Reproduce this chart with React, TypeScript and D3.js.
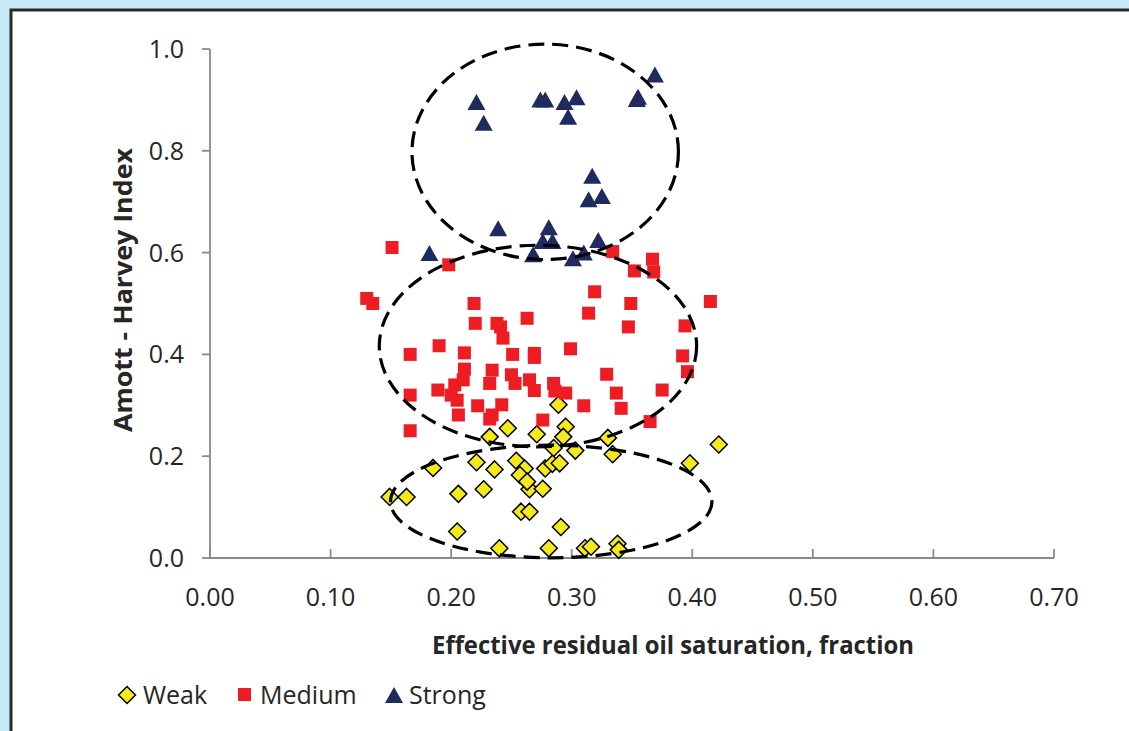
import * as d3 from 'd3';

// Amott-Harvey index vs effective residual oil saturation
const weak: [number, number][] = [
  [0.289, 0.301], [0.247, 0.255], [0.232, 0.238], [0.271, 0.243], [0.295, 0.258],
  [0.293, 0.238], [0.330, 0.236], [0.285, 0.216], [0.303, 0.211], [0.334, 0.204],
  [0.422, 0.223], [0.398, 0.186], [0.185, 0.177], [0.221, 0.188], [0.236, 0.174],
  [0.254, 0.191], [0.261, 0.176], [0.257, 0.163], [0.278, 0.176], [0.284, 0.185],
  [0.290, 0.186], [0.265, 0.135], [0.263, 0.150], [0.276, 0.136], [0.149, 0.120],
  [0.163, 0.120], [0.206, 0.126], [0.227, 0.135], [0.258, 0.091], [0.265, 0.091],
  [0.291, 0.061], [0.205, 0.052], [0.240, 0.019], [0.281, 0.019], [0.311, 0.019],
  [0.316, 0.022], [0.338, 0.028], [0.339, 0.016],
];

const medium: [number, number][] = [
  [0.151, 0.610], [0.198, 0.576], [0.334, 0.602], [0.367, 0.587], [0.368, 0.562],
  [0.352, 0.564], [0.130, 0.510], [0.135, 0.500], [0.219, 0.500], [0.319, 0.523],
  [0.349, 0.500], [0.415, 0.504], [0.220, 0.461], [0.238, 0.461], [0.241, 0.454],
  [0.243, 0.432], [0.263, 0.471], [0.314, 0.481], [0.347, 0.454], [0.394, 0.456],
  [0.166, 0.400], [0.190, 0.417], [0.211, 0.403], [0.251, 0.400], [0.269, 0.402],
  [0.269, 0.394], [0.299, 0.411], [0.392, 0.397], [0.396, 0.366], [0.211, 0.371],
  [0.210, 0.350], [0.234, 0.369], [0.232, 0.343], [0.250, 0.360], [0.253, 0.343],
  [0.265, 0.350], [0.269, 0.329], [0.189, 0.330], [0.203, 0.340], [0.200, 0.320],
  [0.205, 0.310], [0.166, 0.320], [0.285, 0.343], [0.286, 0.328], [0.295, 0.324],
  [0.329, 0.361], [0.337, 0.324], [0.375, 0.330], [0.222, 0.299], [0.242, 0.301],
  [0.234, 0.281], [0.232, 0.273], [0.206, 0.281], [0.310, 0.299], [0.341, 0.294],
  [0.276, 0.271], [0.365, 0.268], [0.166, 0.250],
];

const strong: [number, number][] = [
  [0.221, 0.896], [0.227, 0.855], [0.274, 0.901], [0.278, 0.901], [0.294, 0.896],
  [0.304, 0.905], [0.297, 0.867], [0.369, 0.950], [0.355, 0.906], [0.354, 0.902],
  [0.317, 0.751], [0.314, 0.705], [0.325, 0.711], [0.239, 0.648], [0.281, 0.650],
  [0.276, 0.623], [0.284, 0.623], [0.322, 0.625], [0.182, 0.599], [0.268, 0.597],
  [0.301, 0.589], [0.310, 0.600],
];

// dashed ellipses around each group: [cx, cy, rx, ry] in data units
const groupEllipses: [number, number, number, number][] = [
  [0.278, 0.798, 0.1105, 0.2116],
  [0.272, 0.4165, 0.1316, 0.198],
  [0.283, 0.111, 0.1333, 0.1106],
];

const xTicks = [0, 0.1, 0.2, 0.3, 0.4, 0.5, 0.6, 0.7];
const yTicks = [0, 0.2, 0.4, 0.6, 0.8, 1.0];
const legendItems = ['Weak', 'Medium', 'Strong'];

const FONT = "'Open Sans', 'Liberation Sans', sans-serif";
const TEXT = '#262626';
const AXIS = '#898989';
const YELLOW = '#f3e91b';
const RED = '#ee1d24';
const NAVY = '#1f2a5f';

const diamond = (s: number) => `M0,${-s}L${s},0L0,${s}L${-s},0Z`;
const triangle = 'M0,-8L9,8L-9,8Z';

export default function App() {
  const x = d3.scaleLinear().domain([0, 0.7]).range([210, 1054]);
  const y = d3.scaleLinear().domain([0, 1]).range([558, 49]);

  return (
    <svg
      width={1129}
      height={731}
      style={{ position: 'absolute', left: 0, top: 0 }}
      fontFamily={FONT}
    >
      <rect width={1129} height={731} fill="#c6e9f8" />
      <rect x={11} y={10} width={1200} height={800} fill="#fff" stroke="#2b2b2b" strokeWidth={3} />

      {/* y axis */}
      <line x1={x(0)} x2={x(0)} y1={y(1)} y2={y(0)} stroke={AXIS} strokeWidth={1.8} />
      {yTicks.map(t => (
        <g key={'y' + t}>
          <line x1={x(0) - 8} x2={x(0)} y1={y(t)} y2={y(t)} stroke={AXIS} strokeWidth={1.8} />
          <text x={184} y={y(t)} dy="0.36em" textAnchor="end" fontSize={25} fill={TEXT}>
            {d3.format('.1f')(t)}
          </text>
        </g>
      ))}

      {/* x axis */}
      <line x1={x(0)} x2={x(0.7)} y1={y(0)} y2={y(0)} stroke={AXIS} strokeWidth={1.8} />
      {xTicks.map(t => (
        <g key={'x' + t}>
          <line x1={x(t)} x2={x(t)} y1={y(0) - 9} y2={y(0)} stroke={AXIS} strokeWidth={1.8} />
          <text x={x(t)} y={606} textAnchor="middle" fontSize={25} fill={TEXT}>
            {d3.format('.2f')(t)}
          </text>
        </g>
      ))}

      {/* axis titles */}
      <text x={673} y={654} textAnchor="middle" fontSize={25} fontWeight={700} fill={TEXT}
        textLength={482} lengthAdjust="spacingAndGlyphs">
        Effective residual oil saturation, fraction
      </text>
      <text transform="translate(132,290) rotate(-90)" textAnchor="middle" fontSize={25}
        fontWeight={700} fill={TEXT} textLength={284} lengthAdjust="spacingAndGlyphs">
        Amott - Harvey Index
      </text>

      {/* series */}
      {weak.map((d, i) => (
        <path key={'w' + i} d={diamond(8.5)} transform={`translate(${x(d[0])},${y(d[1])})`}
          fill={YELLOW} stroke="#000" strokeWidth={1.5} />
      ))}
      {medium.map((d, i) => (
        <rect key={'m' + i} x={x(d[0]) - 6.5} y={y(d[1]) - 6.5} width={13} height={13} fill={RED} />
      ))}
      {strong.map((d, i) => (
        <path key={'s' + i} d={triangle} transform={`translate(${x(d[0])},${y(d[1])})`} fill={NAVY} />
      ))}

      {/* group ellipses */}
      {groupEllipses.map((e, i) => (
        <ellipse key={'e' + i} cx={x(e[0])} cy={y(e[1])} rx={x(e[2]) - x(0)} ry={y(0) - y(e[3])}
          fill="none" stroke="#000" strokeWidth={3.2} strokeDasharray="16,8" />
      ))}

      {/* legend */}
      <g fontSize={25} fill={TEXT}>
        <path d={diamond(8.5)} transform="translate(127,695)" fill={YELLOW} stroke="#000" strokeWidth={1.5} />
        <text x={143} y={704}>{legendItems[0]}</text>
        <rect x={238} y={688} width={13} height={13} fill={RED} />
        <text x={260} y={704}>{legendItems[1]}</text>
        <path d={triangle} transform="translate(394,695)" fill={NAVY} />
        <text x={409} y={704}>{legendItems[2]}</text>
      </g>
    </svg>
  );
}
